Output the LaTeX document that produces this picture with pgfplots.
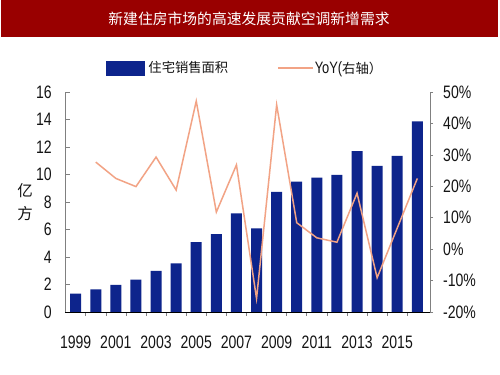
\documentclass[border=0pt]{standalone}
\usepackage{fontspec}
\setmainfont{Liberation Sans}
\newfontfamily\numfont{Liberation Sans}[FakeStretch=0.78]
\newfontfamily\cjk{Noto Sans CJK SC}
\usepackage{pgfplots}
\pgfplotsset{compat=1.18}
\definecolor{barblue}{RGB}{13,36,140}
\definecolor{salmon}{RGB}{242,163,133}
\definecolor{titlered}{RGB}{153,0,0}
\definecolor{axgray}{RGB}{128,128,128}
\definecolor{txt}{RGB}{20,20,20}
\newcommand\nf{\numfont\fontsize{18bp}{21bp}\selectfont}
\begin{document}
\begin{tikzpicture}
\fill[white] (0bp,0bp) rectangle (500bp,375bp);
\path[use as bounding box] (0bp,0bp) rectangle (500bp,375bp);
\fill[titlered] (1bp,338bp) rectangle (498bp,375bp);
\node[white, font=\cjk\fontsize{14.8bp}{17bp}\selectfont] at (249bp,356.5bp) {新建住房市场的高速发展贡献空调新增需求};
\node[txt, font=\cjk\fontsize{15.5bp}{23bp}\selectfont, align=center] at (25bp,173bp) {亿\\方};

\begin{axis}[
  at={(65bp,63bp)}, anchor=south west, scale only axis,
  width=365bp, height=220bp,
  xmin=-0.53, xmax=17.63, ymin=0, ymax=16,
  axis x line*=bottom, axis y line*=left,
  x axis line style={-, black, line width=1bp},
  y axis line style={-, axgray, line width=0.8bp},
  tick align=inside,
  major tick length=5bp,
  minor tick length=4bp,
  xtick={0,2,...,16},
  xticklabels={1999,2001,2003,2005,2007,2009,2011,2013,2015},
  minor xtick={0.5,1.5,...,16.5},
  major x tick style={draw=none},
  minor x tick style={draw=axgray, line width=0.6bp},
  xticklabel style={font=\nf, txt, anchor=base, yshift=-31bp, inner sep=0pt},
  ytick={0,2,...,16},
  yticklabels={0,2,4,6,8,10,12,14,16},
  ytick style={axgray, line width=0.6bp},
  yticklabel style={font=\nf, txt, anchor=east, inner sep=0pt, xshift=-13bp},
  ybar, bar width=11bp,
]
\addplot[fill=barblue, draw=none] coordinates {
(0,1.34)(1,1.65)(2,1.97)(3,2.36)(4,2.99)(5,3.53)(6,5.08)(7,5.67)(8,7.17)
(9,6.08)(10,8.73)(11,9.48)(12,9.77)(13,9.97)(14,11.7)(15,10.63)(16,11.36)(17,13.86)};
\end{axis}

\begin{axis}[
  at={(65bp,63bp)}, anchor=south west, scale only axis,
  width=365bp, height=220bp,
  xmin=-0.53, xmax=17.63, ymin=-20, ymax=50,
  axis x line=none, axis y line*=right,
  y axis line style={-, axgray, line width=0.8bp},
  tick align=outside, major tick length=3bp,
  ytick={-20,-10,...,50},
  yticklabels={-20\%,-10\%,0\%,10\%,20\%,30\%,40\%,50\%},
  ytick style={axgray, line width=0.6bp},
  yticklabel style={font=\nf, txt, anchor=west, inner sep=0pt, xshift=10bp},
  legend columns=2,
  legend style={draw=none, fill=none, inner sep=0pt,
    at={(axis description cs:0.112,1.109)}, anchor=west,
    font=\cjk\fontsize{13.3bp}{16bp}\selectfont, text=txt,
    nodes={inner sep=0pt},
    column sep=4bp,
    /tikz/column 2/.style={column sep=49bp},
    /tikz/column 3/.style={column sep=1bp}},
]
\addlegendimage{legend image code/.code={\fill[barblue] (0bp,-7bp) rectangle (38bp,7bp);}}
\addlegendentry{住宅销售面积}
\addplot[salmon, line width=1.5bp, mark=none,
  legend image code/.code={\draw[salmon, line width=1.5bp] (0bp,0bp) -- (35bp,0bp);}]
  coordinates {
(1,27.7)(2,22.5)(3,19.9)(4,29.3)(5,18.8)(6,47.1)(7,11.8)(8,26.8)(9,-15.7)
(10,45.9)(11,8.4)(12,3.6)(13,2.2)(14,17.8)(15,-9.1)(16,6.7)(17,22.5)};
\addlegendentry{{\numfont\fontsize{16.5bp}{18bp}\selectfont YoY(}右轴）}
\end{axis}
\end{tikzpicture}
\end{document}
